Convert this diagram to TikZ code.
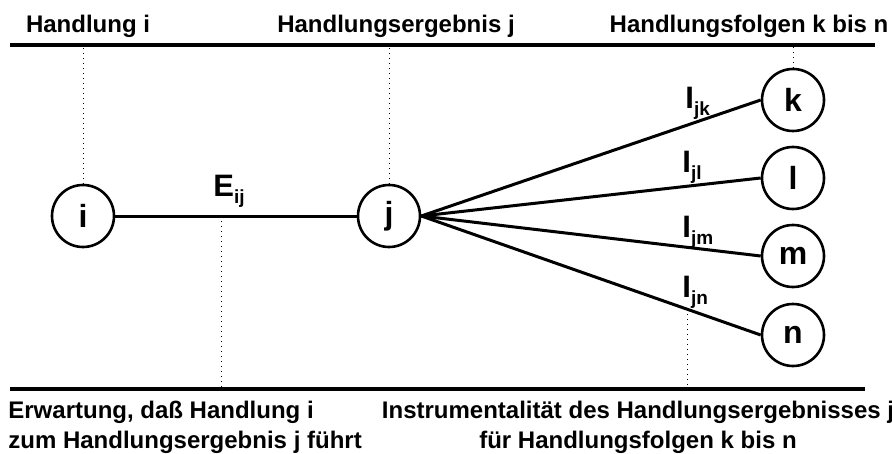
\documentclass[tikz,border=0pt]{standalone}
\usepackage{fontspec}
\setmainfont{Liberation Sans}

% Index tiefgestellt neben dem Buchstaben
\newcommand{\indx}[2]{#1\raisebox{-3.5pt}{\fontsize{9.5}{11}\selectfont #2}}

\begin{document}
\begin{tikzpicture}[x=0.5pt,y=-0.5pt,
    kreis/.style={draw,circle,line width=1.3pt,minimum size=31pt,inner sep=0pt,
      font=\fontsize{16}{19}\selectfont\bfseries},
    titel/.style={inner sep=0pt,font=\fontsize{12}{15}\selectfont\bfseries},
    gewicht/.style={inner sep=0pt,anchor=base west,font=\fontsize{15.5}{18}\selectfont\bfseries},
    kante/.style={line width=1.5pt},
    balken/.style={line width=2pt},
    hilfslinie/.style={dotted,line width=0.5pt}]

    \useasboundingbox (0,0) rectangle (892,454);

    % obere und untere Leiste
    \coordinate (ol) at (10,45);
    \coordinate (or) at (875,45);
    \coordinate (ul) at (10,389);
    \coordinate (ur) at (865,389);
    \draw[balken] (ol) -- (or);
    \draw[balken] (ul) -- (ur);

    % Ueberschriften
    \node[titel,anchor=base] (ti) at (88,33) {Handlung i};
    \node[titel,anchor=base] (tj) at (396,33) {Handlungsergebnis j};
    \node[titel,anchor=base] (tk) at (749,33) {Handlungsfolgen k bis n};

    % Handlung, Ergebnis und Folgen
    \node[kreis] (i) at (83,216) {i};
    \node[kreis] (j) at (389,216) {j};
    \node[kreis] (k) at (793,100) {k};
    \node[kreis] (l) at (793,178) {l};
    \node[kreis] (m) at (793,256) {m};
    \node[kreis] (n) at (793,335) {n};

    % Verbindungen
    \draw[kante] (i) -- (j) coordinate[pos=0.44] (eij);
    \draw[kante] (j.east) -- (k.west);
    \draw[kante] (j.east) -- (l.west);
    \draw[kante] (j.east) -- (m.west);
    \draw[kante] (j.east) -- (n.west) coordinate[pos=0.784] (ijn);

    % Erwartung und Instrumentalitaeten
    \node[gewicht] (e) at (213,197) {\indx{E}{ij}};
    \node[gewicht] (wk) at (685,109) {\indx{I}{jk}};
    \node[gewicht] (wl) at (682,172) {\indx{I}{jl}};
    \node[gewicht] (wm) at (682,237) {\indx{I}{jm}};
    \node[gewicht] (wn) at (682,297) {\indx{I}{jn}};

    % gepunktete Hilfslinien
    \draw[hilfslinie] (i.north) -- (i.north |- ol);
    \draw[hilfslinie] (j.north) -- (j.north |- ol);
    \draw[hilfslinie] (k.north) -- (k.north |- ol);
    \draw[hilfslinie] (eij) -- (eij |- ul);
    \draw[hilfslinie] (ijn) -- (ijn |- ul);

    % Erlaeuterungen unten
    \node[titel,anchor=north west,align=left] (ue) at (8,401)
      {Erwartung, daß Handlung i\\zum Handlungsergebnis j führt};
    \node[titel,anchor=north,align=center] (ui) at (638,401)
      {Instrumentalität des Handlungsergebnisses j\\für Handlungsfolgen k bis n};
\end{tikzpicture}
\end{document}
